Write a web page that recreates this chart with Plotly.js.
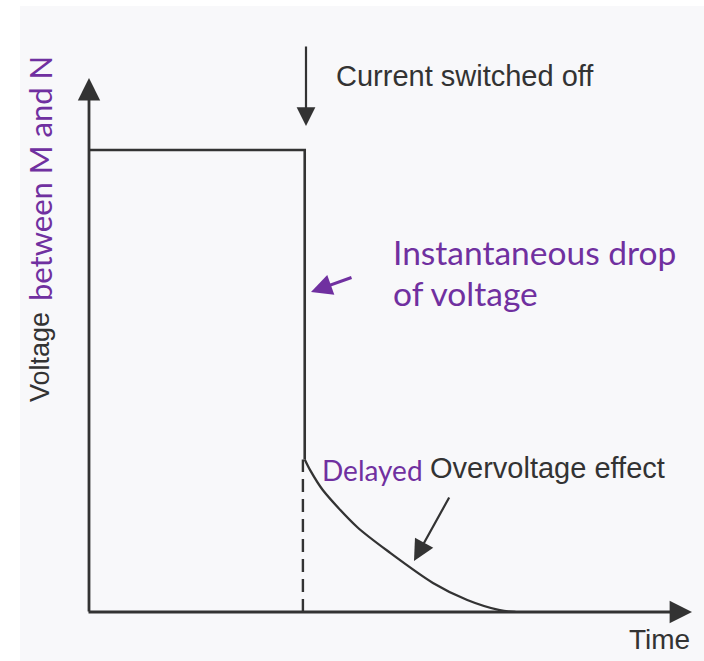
<!DOCTYPE html>
<html>
<head>
<meta charset="utf-8">
<script src="https://cdn.plot.ly/plotly-3.0.1.min.js"></script>
<style>html,body{margin:0;padding:0;background:#fff;}#chart{width:704px;height:661px;}</style>
</head>
<body>
<div id="chart"></div>
<script>
// ---- data (arbitrary time / voltage units) ----
const stepTime = [0, 3.6, 3.6];
const stepVoltage = [1, 1, 0.33];
const decayTime = [3.6, 3.69, 3.9, 4.47, 5.02, 5.73, 6.3, 6.84, 7.1];
const decayVoltage = [0.33, 0.307, 0.264, 0.184, 0.128, 0.063, 0.026, 0.004, 0];
const dashTime = [3.57, 3.57];
const dashVoltage = [0, 0.33];
const labels = {
  switched: "Current switched off",
  drop1: "Instantaneous drop",
  drop2: "of voltage",
  delayed: "Delayed",
  over: "Overvoltage effect",
  time: "Time",
  yDark: "Voltage",
  yPurple: "between M and N"
};

const PURPLE = "#7030a0", INK = "#333333";
const L = 88, T = 80, W = 602, H = 532;
function px(x){ return (x - L) / W; }
function py(y){ return (T + H - y) / H; }

const traces = [
  {x: stepTime, y: stepVoltage, mode: "lines", line: {color: INK, width: 2.6}, hoverinfo: "skip"},
  {x: decayTime, y: decayVoltage, mode: "lines", line: {color: INK, width: 2.3, shape: "spline", smoothing: 0.8}, hoverinfo: "skip"},
  {x: dashTime, y: dashVoltage, mode: "lines", line: {color: INK, width: 2.4, dash: "13px,7px"}, hoverinfo: "skip"}
];

function txt(text, x, y, font, size, color, extra){
  return Object.assign({xref: "paper", yref: "paper", x: px(x), y: py(y), text: text, showarrow: false,
    xanchor: "left", yanchor: "middle", font: {family: font, size: size, color: color}}, extra || {});
}
function arrow(tipX, tipY, tailX, tailY, color, width, size){
  return {xref: "paper", yref: "paper", x: px(tipX), y: py(tipY), ax: tailX - tipX, ay: tailY - tipY,
    text: "", showarrow: true, arrowhead: 2, arrowwidth: width, arrowsize: size, arrowcolor: color, standoff: 0};
}

const SANS = "Liberation Sans, Arial, sans-serif";
const HUM = "Lato, Noto Sans, sans-serif";

const annotations = [
  arrow(89, 78, 89, 613, INK, 2.8, 1.6),
  arrow(692, 612, 87, 612, INK, 2.8, 1.6),
  arrow(306, 126, 306, 45, INK, 2.2, 1.7),
  arrow(311, 292, 353, 277, PURPLE, 3, 1.4),
  arrow(414, 561, 450, 496, INK, 2.2, 1.9),
  txt(labels.switched, 334, 76, SANS, 29, INK),
  txt(labels.drop1, 391, 252, HUM, 33.5, PURPLE),
  txt(labels.drop2, 391, 293, HUM, 33.5, PURPLE),
  txt(labels.delayed, 320, 470, HUM, 28, PURPLE),
  txt(labels.over, 428, 468, SANS, 29, INK),
  txt(labels.time, 627, 639, SANS, 28, INK),
  txt(labels.yDark, 40, 357, SANS, 27, INK, {xanchor: "center", textangle: -90}),
  txt(labels.yPurple, 40, 179, HUM, 31, PURPLE, {xanchor: "center", textangle: -90})
];

const hidden = {showgrid: false, zeroline: false, showticklabels: false, showline: false, ticks: "", fixedrange: true};
const layout = {
  width: 704, height: 661,
  margin: {l: L, r: 704 - L - W, t: T, b: 661 - T - H},
  paper_bgcolor: "#ffffff", plot_bgcolor: "rgba(0,0,0,0)",
  showlegend: false,
  xaxis: Object.assign({range: [0, 10]}, hidden),
  yaxis: Object.assign({range: [0, 1.1515]}, hidden),
  shapes: [{type: "rect", xref: "paper", yref: "paper", x0: px(20), x1: px(704), y0: py(661), y1: py(6),
    fillcolor: "#f8f8fa", line: {width: 0}, layer: "below"}],
  annotations: annotations
};
Plotly.newPlot("chart", traces, layout, {staticPlot: true});
</script>
</body>
</html>
